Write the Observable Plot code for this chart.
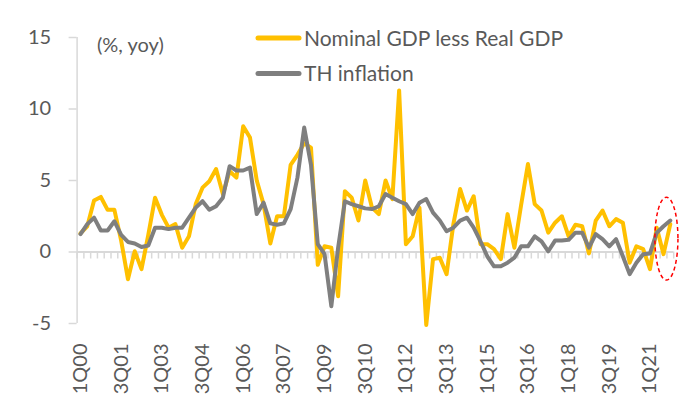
<!DOCTYPE html>
<html>
<head>
<meta charset="utf-8">
<script src="https://cdn.jsdelivr.net/npm/d3@7"></script>
<script src="https://cdn.jsdelivr.net/npm/@observablehq/plot@0.6"></script>
<style>
  body { margin: 0; background: #fff; }
  #wrap { position: relative; width: 693px; height: 400px; font-family: Lato, "Open Sans", sans-serif; }
  #legend { position: absolute; left: 0; top: 0; pointer-events: none; }
  .chart g[aria-label^="y-axis"] line,
  .chart g[aria-label="y-axis tick"] path { stroke: #d9d9d9; stroke-width: 1.5px; }
</style>
</head>
<body>
<div id="wrap"></div>
<script>
// Quarterly categories 1Q00 .. 4Q21
const years = ["00","01","02","03","04","05","06","07","08","09","10","11","12","13","14","15","16","17","18","19","20","21"];
const quarters = years.flatMap(y => ["1Q" + y, "2Q" + y, "3Q" + y, "4Q" + y]);

// Tick labels shown on the x axis
const tickLabels = ["1Q00","3Q01","1Q03","3Q04","1Q06","3Q07","1Q09","3Q10","1Q12","3Q13","1Q15","3Q16","1Q18","3Q19","1Q21"];
const yTicks = [-5, 0, 5, 10, 15];

// Nominal GDP growth less real GDP growth (%, yoy)
const nominalLessReal = [
  1.3, 1.8, 3.6, 3.85, 2.95, 2.95, 0.8, -1.9, 0.05, -1.2,
  1.2, 3.8, 2.6, 1.7, 1.95, 0.3, 1.1, 3.35, 4.5, 4.95,
  5.8, 4.05, 5.65, 5.2, 8.8, 8.0, 5.0, 3.35, 0.6, 2.5,
  2.5, 6.1, 6.8, 7.6, 7.3, -0.9, 0.4, 0.3, -3.1, 4.25,
  3.8, 2.2, 5.0, 3.1, 2.65, 5.0, 3.7, 11.3, 0.55, 1.1,
  3.1, -5.1, -0.5, -0.4, -1.55, 1.95, 4.4, 2.9, 3.9, 0.55,
  0.55, 0.2, -0.5, 2.65, 0.3, 3.3, 6.15, 3.35, 2.9, 1.35,
  2.05, 2.5, 1.1, 1.9, 1.8, -0.1, 2.2, 2.9, 1.8, 2.3,
  2.05, -0.75, 0.4, 0.2, -1.2, 1.7, -0.15, 1.95
];

// TH headline inflation (%, yoy)
const thInflation = [
  1.25, 1.95, 2.4, 1.5, 1.5, 2.15, 1.2, 0.7, 0.6, 0.35,
  0.45, 1.7, 1.7, 1.6, 1.7, 1.7, 2.4, 3.1, 3.55, 2.95,
  3.2, 3.8, 6.0, 5.7, 5.7, 5.9, 2.65, 3.45, 2.0, 1.9,
  2.0, 3.0, 5.2, 8.7, 6.1, 0.55, -0.15, -3.8, 0.3, 3.55,
  3.35, 3.2, 3.05, 3.0, 3.2, 4.05, 3.8, 3.55, 3.35, 2.65,
  3.45, 3.7, 2.75, 2.2, 1.45, 1.7, 2.2, 2.4, 1.7, 0.75,
  -0.3, -1.0, -1.0, -0.75, -0.4, 0.4, 0.4, 1.1, 0.75, 0.05,
  0.8, 0.8, 0.85, 1.35, 1.35, 0.3, 1.25, 0.9, 0.4, 0.9,
  -0.3, -1.55, -0.75, -0.15, -0.1, 1.35, 1.8, 2.2
];

// Highlighted recent period (annotation ellipse, in data units)
const highlight = { from: 84.8, to: 88.2, low: -2.0, high: 3.8 };

const idx = quarters.map((q, i) => i);
const tickIdx = tickLabels.map(l => quarters.indexOf(l));
const boundaries = d3.range(-0.5, quarters.length, 1);

const plot = Plot.plot({
  width: 693,
  height: 400,
  marginLeft: 76.6,
  marginRight: 19.8,
  marginTop: 37,
  marginBottom: 77,
  className: "chart",
  style: { fontFamily: "Lato, 'Open Sans', sans-serif", fontSize: "20px", color: "#595959", background: "transparent" },
  x: {
    domain: [-0.5, quarters.length - 0.5],
    ticks: tickIdx,
    tickFormat: i => quarters[i],
    tickRotate: -90,
    tickSize: 0,
    tickPadding: 20,
    label: null
  },
  y: {
    domain: [-5, 15],
    ticks: yTicks,
    tickFormat: d => String(d),
    tickSize: 8,
    tickPadding: 18,
    label: null
  },
  marks: [
    Plot.ruleX([-0.5], { y1: -5, y2: 15, stroke: "#d9d9d9", strokeWidth: 1.5 }),
    Plot.ruleY([0], { stroke: "#d9d9d9", strokeWidth: 2 }),
    Plot.ruleX(boundaries, { x: d => d, y1: 0, y2: 0, insetBottom: -7, stroke: "#d9d9d9", strokeWidth: 1.5 }),
    Plot.line(nominalLessReal, { x: (d, i) => idx[i], y: d => d, stroke: "#FFC000", strokeWidth: 4, strokeLinejoin: "round", strokeLinecap: "round" }),
    Plot.line(thInflation, { x: (d, i) => idx[i], y: d => d, stroke: "#7f7f7f", strokeWidth: 4, strokeLinejoin: "round", strokeLinecap: "round" })
  ]
});

const wrap = document.getElementById("wrap");
wrap.appendChild(plot);

// Annotation ellipse placed through the plot's scales
const sx = plot.scale("x"), sy = plot.scale("y");
const fx = sx.apply ? v => sx.apply(v) : d3.scaleLinear(sx.domain, sx.range);
const fy = sy.apply ? v => sy.apply(v) : d3.scaleLinear(sy.domain, sy.range);
const ex1 = fx(highlight.from), ex2 = fx(highlight.to);
const ey1 = fy(highlight.high), ey2 = fy(highlight.low);
d3.select(plot).append("ellipse")
  .attr("cx", (ex1 + ex2) / 2).attr("cy", (ey1 + ey2) / 2)
  .attr("rx", (ex2 - ex1) / 2).attr("ry", (ey2 - ey1) / 2)
  .attr("fill", "none").attr("stroke", "#ff0000").attr("stroke-width", 1.5)
  .attr("stroke-dasharray", "4,3");

// Legend and unit note (overlay inside chart area)
const leg = d3.select(wrap).append("svg").attr("id", "legend").attr("width", 693).attr("height", 400);
const legendItems = [
  { label: "Nominal GDP less Real GDP", color: "#FFC000" },
  { label: "TH inflation", color: "#7f7f7f" }
];
legendItems.forEach((item, k) => {
  const y = 38 + k * 35.5;
  leg.append("line").attr("x1", 258).attr("x2", 299).attr("y1", y).attr("y2", y)
    .attr("stroke", item.color).attr("stroke-width", 5).attr("stroke-linecap", "round");
  leg.append("text").attr("x", 304).attr("y", y + 7.5).attr("fill", "#595959")
    .attr("font-family", "Lato, 'Open Sans', sans-serif").attr("font-size", 21).text(item.label);
});
leg.append("text").attr("x", 97).attr("y", 52).attr("fill", "#595959")
  .attr("font-family", "Lato, 'Open Sans', sans-serif").attr("font-size", 20).text("(%, yoy)");
</script>
</body>
</html>
